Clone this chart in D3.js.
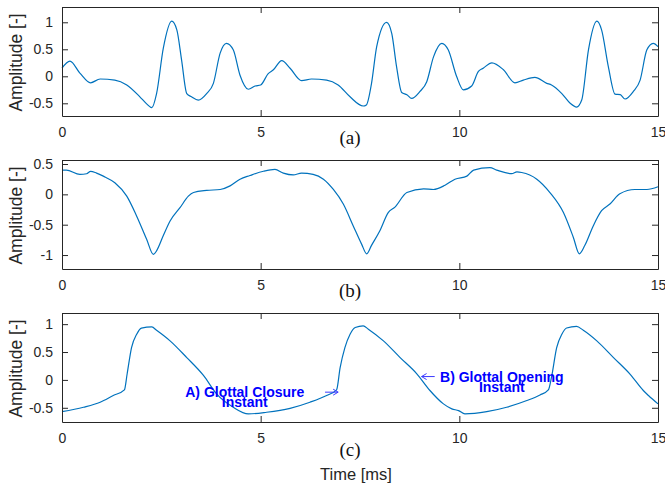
<!DOCTYPE html>
<html>
<head>
<meta charset="utf-8">
<script src="https://cdn.jsdelivr.net/npm/d3@7"></script>
<style>
  body { margin: 0; background: #fff; }
  svg text { font-family: "Liberation Sans", Arial, Helvetica, sans-serif; }
</style>
</head>
<body>
<script>

// (a) speech signal
var timeA = [0, 0.2, 0.45, 0.72, 0.96, 1.33, 1.63, 1.96, 2.13, 2.26, 2.38, 2.55, 2.76, 2.89, 3.01, 3.14, 3.26, 3.43, 3.64, 3.81,
  3.98, 4.14, 4.31, 4.48, 4.69, 4.86, 5.0, 5.19, 5.32, 5.53, 5.74, 6.03, 6.28, 6.66, 6.95, 7.25, 7.58, 7.66, 7.79, 7.92,
  8.17, 8.30, 8.42, 8.55, 8.68, 8.80, 9.01, 9.18, 9.35, 9.56, 9.72, 9.93, 10.1, 10.31, 10.48, 10.6, 10.82, 11.11, 11.4, 11.61,
  11.9, 12.2, 12.32, 12.58, 12.79, 12.95, 13.08, 13.25, 13.46, 13.58, 13.75, 13.92, 14.05, 14.17, 14.38, 14.55, 14.72, 14.88, 15.0];
var ampA = [0.15, 0.28, 0.06, -0.12, -0.05, -0.07, -0.16, -0.38, -0.51, -0.58, -0.32, 0.52, 1.02, 0.86, 0.30, -0.32, -0.38, -0.44, -0.32, -0.13,
  0.43, 0.61, 0.49, 0.02, -0.24, -0.18, -0.16, 0.05, 0.12, 0.29, 0.15, -0.08, -0.05, -0.07, -0.16, -0.38, -0.55, -0.53, -0.13, 0.55,
  1.0, 0.79, 0.18, -0.30, -0.34, -0.41, -0.28, -0.10, 0.36, 0.61, 0.49, 0.0, -0.25, -0.18, 0.09, 0.15, 0.25, 0.12, -0.12, -0.07,
  -0.02, -0.13, -0.16, -0.32, -0.50, -0.57, -0.44, 0.49, 1.02, 0.86, 0.18, -0.33, -0.34, -0.42, -0.28, -0.07, 0.49, 0.61, 0.55];

// (b) glottal flow derivative
var timeB = [0, 0.11, 0.45, 0.62, 0.72, 0.87, 1.04, 1.33, 1.63, 1.88, 2.13, 2.3, 2.38, 2.55, 2.72, 2.97, 3.18, 3.31, 3.64, 3.98,
  4.23, 4.48, 4.73, 5.07, 5.36, 5.57, 5.82, 6.03, 6.32, 6.58, 6.83, 7.08, 7.33, 7.54, 7.67, 7.79, 8.0, 8.21, 8.38, 8.68,
  9.1, 9.35, 9.64, 9.89, 10.19, 10.36, 10.77, 10.94, 11.32, 11.45, 11.57, 11.95, 12.28, 12.62, 12.87, 13.02, 13.16, 13.37, 13.58, 13.79,
  14.04, 14.42, 14.72, 15.0];
var ampB = [0.40, 0.40, 0.33, 0.34, 0.38, 0.35, 0.30, 0.19, -0.03, -0.36, -0.74, -0.99, -0.93, -0.68, -0.44, -0.22, -0.03, 0.03, 0.065, 0.08,
  0.14, 0.25, 0.31, 0.38, 0.41, 0.35, 0.32, 0.35, 0.33, 0.25, 0.08, -0.16, -0.52, -0.82, -0.98, -0.84, -0.60, -0.30, -0.21, 0.03,
  0.09, 0.08, 0.15, 0.25, 0.30, 0.40, 0.44, 0.40, 0.34, 0.37, 0.36, 0.25, 0.03, -0.30, -0.71, -0.98, -0.84, -0.52, -0.27, -0.16,
  0.01, 0.08, 0.08, 0.125];

// (c) glottal flow
var timeC = [0, 0.54, 0.96, 1.29, 1.57, 1.64, 1.75, 1.88, 2.0, 2.26, 2.38, 2.72, 3.14, 3.56, 3.89, 4.31, 4.69, 5.15, 5.74, 6.24,
  6.66, 6.91, 7.0, 7.12, 7.25, 7.38, 7.58, 7.71, 8.09, 8.51, 8.93, 9.26, 9.6, 9.81, 9.98, 10.14, 10.69, 11.19, 11.7, 12.03,
  12.24, 12.32, 12.45, 12.58, 12.7, 12.95, 13.12, 13.46, 13.88, 14.3, 14.63, 14.76, 15.0];
var ampC = [-0.57, -0.49, -0.40, -0.28, -0.18, 0.11, 0.58, 0.82, 0.93, 0.95, 0.89, 0.70, 0.40, 0.08, -0.25, -0.49, -0.61, -0.58, -0.51, -0.40,
  -0.28, -0.18, 0.22, 0.58, 0.82, 0.94, 0.97, 0.91, 0.70, 0.40, 0.11, -0.19, -0.43, -0.52, -0.55, -0.61, -0.57, -0.49, -0.37, -0.27,
  -0.18, 0.05, 0.58, 0.82, 0.93, 0.96, 0.89, 0.70, 0.40, 0.10, -0.19, -0.28, -0.43];

var xTicks = [0, 5, 10, 15];
var yTicksA = [-0.5, 0, 0.5, 1];
var yTicksB = [-1, -0.5, 0, 0.5];
var yTicksC = [-0.5, 0, 0.5, 1];
var captions = ["(a)", "(b)", "(c)"];

// annotations on (c), in data units
var noteA = { lines: ["A) Glottal Closure", "Instant"], tx: 4.6, ty: -0.22, ax0: 6.62, ax1: 6.95, ay: -0.22 };
var noteB = { lines: ["B) Glottal Opening", "Instant"], tx: 11.07, ty: 0.05, ax0: 9.38, ax1: 9.05, ay: 0.06 };

var W = 665, H = 489;
var left = 62, plotW = 596, plotH = 109;
var tops = [7, 160, 313];
var axisCol = "#262626";
var lineCol = "#0072bd";

var svg = d3.select("body").append("svg")
  .attr("width", W)
  .attr("height", H);

var x = d3.scaleLinear().domain([0, 15]).range([left, left + plotW]);
var fmt = function (d) { return String(d); };

var line = d3.line()
  .x(function (d) { return x(d[0]); })
  .y(function (d) { return d[1]; })
  .curve(d3.curveMonotoneX);

function drawPanel(i, times, amps, yDomain, yTicks) {
  var top = tops[i];
  var y = d3.scaleLinear().domain(yDomain).range([top + plotH, top]);

  var pts = times.map(function (t, k) { return [t, y(amps[k])]; });
  svg.append("path")
    .attr("d", line(pts))
    .attr("fill", "none")
    .attr("stroke", lineCol)
    .attr("stroke-width", 1.2);

  var gb = svg.append("g").attr("transform", "translate(0," + (top + plotH) + ")")
    .call(d3.axisBottom(x).tickValues(xTicks).tickSize(-6).tickSizeOuter(0).tickPadding(11).tickFormat(fmt));
  var gt = svg.append("g").attr("transform", "translate(0," + top + ")")
    .call(d3.axisTop(x).tickValues(xTicks).tickSize(-6).tickSizeOuter(0).tickFormat(""));
  var gl = svg.append("g").attr("transform", "translate(" + left + ",0)")
    .call(d3.axisLeft(y).tickValues(yTicks).tickSize(-6).tickSizeOuter(0).tickPadding(9).tickFormat(fmt));
  var gr = svg.append("g").attr("transform", "translate(" + (left + plotW) + ",0)")
    .call(d3.axisRight(y).tickValues(yTicks).tickSize(-6).tickSizeOuter(0).tickFormat(""));

  [gb, gt, gl, gr].forEach(function (g) {
    g.selectAll("path, line").attr("stroke", axisCol).attr("stroke-width", 1);
    g.selectAll("text").attr("fill", axisCol).style("font-size", "14px");
  });

  svg.append("text")
    .attr("transform", "translate(22," + (top + plotH / 2 + 1) + ") rotate(-90)")
    .attr("text-anchor", "middle")
    .style("font-size", "17.5px")
    .attr("fill", axisCol)
    .text("Amplitude [-]");

  return y;
}

drawPanel(0, timeA, ampA, [-0.735, 1.283], yTicksA);
drawPanel(1, timeB, ampB, [-1.23, 0.566], yTicksB);
var yC = drawPanel(2, timeC, ampC, [-0.755, 1.2], yTicksC);

// captions
var capY = [144, 297, 456];
captions.forEach(function (c, i) {
  svg.append("text")
    .attr("x", 350)
    .attr("y", capY[i])
    .attr("text-anchor", "middle")
    .style("font-family", "'Liberation Serif', 'Times New Roman', serif")
    .style("font-size", "19px")
    .attr("fill", "#111")
    .text(c);
});

svg.append("text")
  .attr("x", 356)
  .attr("y", 480)
  .attr("text-anchor", "middle")
  .style("font-size", "16.5px")
  .attr("fill", axisCol)
  .text("Time [ms]");

// annotations
[noteA, noteB].forEach(function (n) {
  var t = svg.append("text")
    .attr("text-anchor", "middle")
    .style("font-size", "14px")
    .style("font-weight", "bold")
    .attr("fill", "#0000ff");
  n.lines.forEach(function (s, k) {
    t.append("tspan")
      .attr("x", x(n.tx))
      .attr("y", yC(n.ty) + 4.5 + k * 10.8)
      .text(s);
  });

  var x0 = x(n.ax0), x1 = x(n.ax1), ay = yC(n.ay);
  var dir = x1 > x0 ? 1 : -1;
  svg.append("path")
    .attr("d", "M" + x0 + "," + ay + "L" + x1 + "," + ay +
      "M" + (x1 - dir * 5) + "," + (ay - 3) + "L" + x1 + "," + ay + "L" + (x1 - dir * 5) + "," + (ay + 3))
    .attr("fill", "none")
    .attr("stroke", "#3b3bff")
    .attr("stroke-width", 1);
});

</script>
</body>
</html>
